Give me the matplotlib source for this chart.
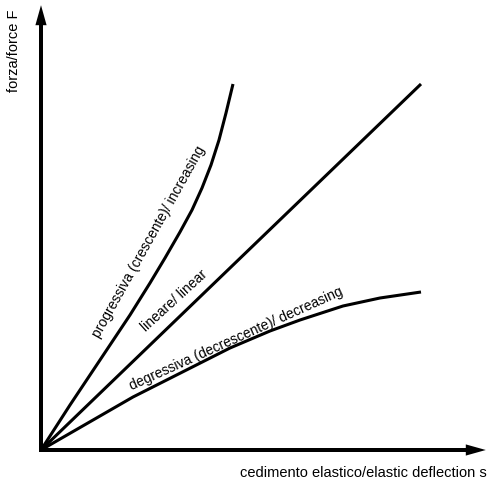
import matplotlib
matplotlib.use("Agg")
import matplotlib.pyplot as plt

plt.rcParams['font.family'] = ['Liberation Sans', 'DejaVu Sans']

# data (arbitrary units)
prog_x = [0, 0.725, 1.475, 2.225, 2.725, 3.1, 3.475, 3.775, 4.025, 4.25, 4.45, 4.625, 4.8]
prog_y = [0, 1.125, 2.25, 3.375, 4.175, 4.8, 5.45, 6.0, 6.55, 7.125, 7.75, 8.425, 9.15]
lin_x = [0, 9.5]
lin_y = [0, 9.15]
deg_x = [0, 2.3, 4.725, 5.725, 6.475, 7.55, 8.475, 9.5]
deg_y = [0, 1.325, 2.55, 2.975, 3.25, 3.6, 3.8, 3.95]

labels = {
    'prog': "progressiva (crescente)/ increasing",
    'lin': "lineare/ linear",
    'deg': "degressiva (decrescente)/ decreasing",
}
xlabel = "cedimento elastico/elastic deflection s"
ylabel = "forza/force F"

fig = plt.figure(figsize=(4.9, 4.86), dpi=100)
ax = fig.add_axes([0, 0, 1, 1])
ax.set_xlim(-41 / 40, (490 - 41) / 40)
ax.set_ylim(-(486 - 450) / 40, 450 / 40)
ax.axis('off')

lw = 2.2
for xs, ys in ((prog_x, prog_y), (lin_x, lin_y), (deg_x, deg_y)):
    ax.plot(xs, ys, color='black', lw=lw, solid_capstyle='butt', solid_joinstyle='round')

# axes arrows
ax.arrow(-0.05, 0, 11.17, 0, width=0.1, head_width=0.28, head_length=0.5,
         length_includes_head=True, color='black', lw=0)
ax.arrow(0, -0.05, 0, 11.17, width=0.1, head_width=0.28, head_length=0.5,
         length_includes_head=True, color='black', lw=0)

fs = 10
ax.text(2.7, 5.2, labels['prog'], rotation=60.8, ha='center', va='center', fontsize=fs,
        rotation_mode='anchor')
ax.text(3.33, 3.73, labels['lin'], rotation=42.4, ha='center', va='center', fontsize=fs,
        rotation_mode='anchor')
ax.text(4.88, 2.78, labels['deg'], rotation=24.3, ha='center', va='center', fontsize=fs,
        rotation_mode='anchor')

ax.text(11.15, -0.575, xlabel, ha='right', va='center', fontsize=10.5)
ax.text(-0.675, 11.0, ylabel, rotation=90, ha='center', va='top', fontsize=10.5)

fig.savefig('out.png', dpi=100)
